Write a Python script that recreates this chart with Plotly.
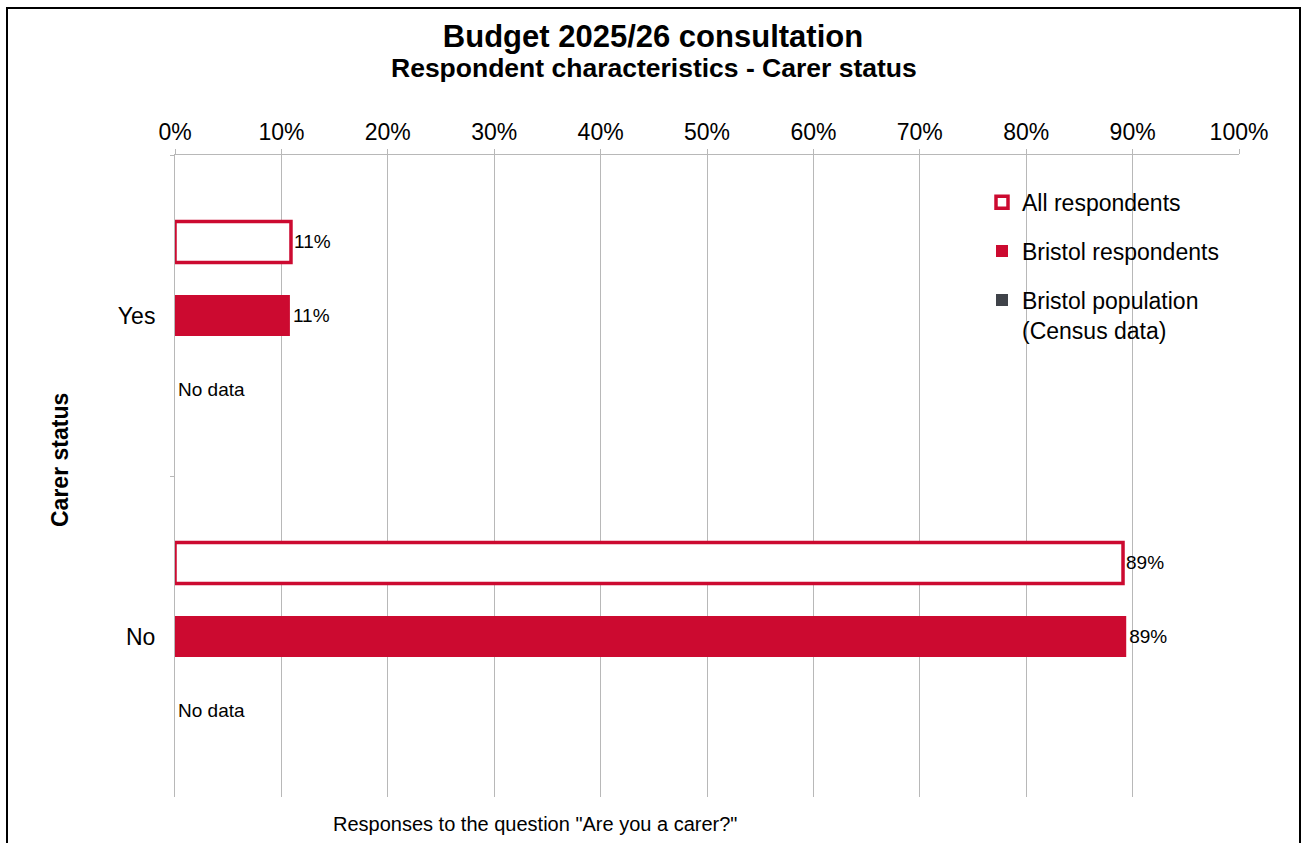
import plotly.graph_objects as go

# Chart data
categories = ["Yes", "No"]
all_respondents = [10.9, 89.1]
bristol_respondents = [10.8, 89.4]
bristol_population = [None, None]  # no census figures available

series_names = ["All respondents", "Bristol respondents", "Bristol population<br>(Census data)"]
x_ticks = [0, 10, 20, 30, 40, 50, 60, 70, 80, 90, 100]
x_tick_labels = [f"{v}%" for v in x_ticks]

RED = "#CC0A30"
GREY = "#3F4349"
FONT = "Liberation Sans, Arial, sans-serif"


def pct_labels(values):
    return [f"{v:.0f}%" if v is not None else "No data" for v in values]


fig = go.Figure()

fig.add_trace(go.Bar(
    name=series_names[0], y=categories, x=all_respondents, orientation="h",
    marker=dict(color="white", line=dict(color=RED, width=3.5)),
    text=pct_labels(all_respondents), textposition="outside",
    textfont=dict(size=19, color="black", family=FONT),
    legendgroup="a", cliponaxis=False,
))
fig.add_trace(go.Bar(
    name=series_names[1], y=categories, x=bristol_respondents, orientation="h",
    marker=dict(color=RED, line=dict(width=0)),
    text=pct_labels(bristol_respondents), textposition="outside",
    textfont=dict(size=19, color="black", family=FONT),
    legendgroup="b", cliponaxis=False,
))
# Population series has no values: draw a zero-length bar carrying the "No data" label
fig.add_trace(go.Bar(
    name=series_names[2], y=categories,
    x=[v if v is not None else 0 for v in bristol_population], orientation="h",
    marker=dict(color=GREY, line=dict(width=0)),
    text=pct_labels(bristol_population), textposition="outside",
    textfont=dict(size=19, color="black", family=FONT),
    legendgroup="c", cliponaxis=False,
))

fig.update_layout(
    width=1306, height=843,
    margin=dict(l=175, r=67, t=155, b=46),
    paper_bgcolor="white", plot_bgcolor="white",
    font=dict(family=FONT, color="black", size=23),
    barmode="group", bargap=0.313, bargroupgap=0.44,
    showlegend=True,
    legend=dict(
        x=(982 - 175) / 1064, y=0.960, xanchor="left", yanchor="top",
        traceorder="grouped", tracegroupgap=16, valign="top",
        font=dict(size=23, family=FONT, color="black"),
        bgcolor="rgba(0,0,0,0)", itemwidth=30,
    ),
    title=dict(
        text="<b>Budget 2025/26 consultation</b>",
        x=0.5, xref="container", xanchor="center",
        y=1 - 36 / 843, yref="container", yanchor="middle",
        font=dict(size=31, family=FONT, color="black"),
    ),
    xaxis=dict(
        side="top", range=[0, 100], tickvals=x_ticks, ticktext=x_tick_labels,
        showgrid=True, gridcolor="#B8B8B8", gridwidth=1,
        showline=True, linecolor="#B8B8B8", linewidth=1,
        ticks="outside", ticklen=5, tickcolor="#B8B8B8",
        tickfont=dict(size=23, family=FONT, color="black"),
        zeroline=False, fixedrange=True,
    ),
    yaxis=dict(
        autorange="reversed", type="category",
        showline=True, linecolor="#B8B8B8", linewidth=1,
        ticks="outside", ticklen=4, tickcolor="#B8B8B8", tickson="boundaries",
        ticklabelstandoff=14,
        tickfont=dict(size=23, family=FONT, color="black"),
        showgrid=False, fixedrange=True,
    ),
    shapes=[dict(
        type="rect", xref="paper", yref="paper",
        x0=(7 - 175) / 1064, x1=(1300 - 175) / 1064,
        y0=-0.2, y1=(797 - 8) / 642,
        line=dict(color="black", width=2), fillcolor="rgba(0,0,0,0)", layer="above",
    )],
    annotations=[
        dict(text="<b>Respondent characteristics - Carer status</b>",
             xref="paper", yref="paper", x=(654 - 175) / 1064, y=(797 - 68) / 642,
             xanchor="center", yanchor="middle", showarrow=False,
             font=dict(size=26.5, family=FONT, color="black")),
        dict(text="<b>Carer status</b>", textangle=-90,
             xref="paper", yref="paper", x=(60 - 175) / 1064, y=(797 - 460) / 642,
             xanchor="center", yanchor="middle", showarrow=False,
             font=dict(size=23, family=FONT, color="black")),
        dict(text='Responses to the question "Are you a carer?"',
             xref="paper", yref="paper", x=(535 - 175) / 1064, y=(797 - 824) / 642,
             xanchor="center", yanchor="middle", showarrow=False,
             font=dict(size=20, family=FONT, color="black")),
    ],
)

fig.write_html("out.html")
